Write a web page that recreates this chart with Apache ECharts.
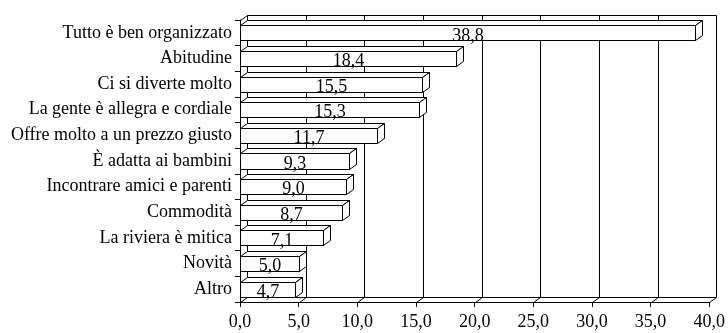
<!DOCTYPE html>
<html>
<head>
<meta charset="utf-8">
<script src="https://cdn.jsdelivr.net/npm/echarts@6/dist/echarts.min.js"></script>
<style>
  html, body { margin: 0; padding: 0; background: #ffffff; }
  #chart { width: 728px; height: 333px; }
</style>
</head>
<body>
<div id="chart"></div>
<script>
// Reasons given (percent)
const categories = [
  'Tutto è ben organizzato',
  'Abitudine',
  'Ci si diverte molto',
  'La gente è allegra e cordiale',
  'Offre molto a un prezzo giusto',
  'È adatta ai bambini',
  'Incontrare amici e parenti',
  'Commodità',
  'La riviera è mitica',
  'Novità',
  'Altro'
];
const values = [38.8, 18.4, 15.5, 15.3, 11.7, 9.3, 9.0, 8.7, 7.1, 5.0, 4.7];
const xTicks = [0, 5, 10, 15, 20, 25, 30, 35, 40];

// 3D depth of walls and bars, in pixels
const DX = 7, DY = 5;
const FONT = '"Liberation Serif", "Times New Roman", serif';
const fmt = v => v.toFixed(1).replace('.', ',');
const c = v => Math.round(v) + 0.5;

const chart = echarts.init(document.getElementById('chart'), null, { renderer: 'canvas' });

function wallItem(params, api) {
  const cs = params.coordSys;
  const top = cs.y, bottom = cs.y + cs.height;
  const line = { stroke: '#000', lineWidth: 1, fill: null };
  const children = [];
  // back wall vertical grid lines and floor diagonals
  xTicks.forEach(t => {
    const x = api.coord([t, 0])[0];
    children.push({ type: 'line', shape: { x1: c(x + DX), y1: c(top - DY), x2: c(x + DX), y2: c(bottom - DY) }, style: line });
    children.push({ type: 'line', shape: { x1: c(x), y1: c(bottom), x2: c(x + DX), y2: c(bottom - DY) }, style: line });
  });
  const xa = api.coord([xTicks[0], 0])[0];
  const xb = api.coord([xTicks[xTicks.length - 1], 0])[0];
  // back wall top edge and floor back edge
  children.push({ type: 'line', shape: { x1: c(xa + DX), y1: c(top - DY), x2: c(xb + DX), y2: c(top - DY) }, style: line });
  children.push({ type: 'line', shape: { x1: c(xa + DX), y1: c(bottom - DY), x2: c(xb + DX), y2: c(bottom - DY) }, style: line });
  // left wall top edge
  children.push({ type: 'line', shape: { x1: c(xa), y1: c(top), x2: c(xa + DX), y2: c(top - DY) }, style: line });
  return { type: 'group', children: children };
}

function barItem(params, api) {
  const val = api.value(0);
  const idx = api.value(1);
  const p0 = api.coord([0, idx]);
  const p1 = api.coord([val, idx]);
  const band = api.size([0, 1])[1];
  const h = band * 0.59;
  const x0 = c(p0[0]), x1 = c(p1[0]);
  const yT = c(p0[1] - h / 2), yB = c(p0[1] + h / 2);
  const st = { fill: '#ffffff', stroke: '#000', lineWidth: 1 };
  return {
    type: 'group',
    children: [
      { type: 'polygon', shape: { points: [[x0, yT], [x0 + DX, yT - DY], [x1 + DX, yT - DY], [x1, yT]] }, style: st },
      { type: 'polygon', shape: { points: [[x1, yT], [x1 + DX, yT - DY], [x1 + DX, yB - DY], [x1, yB]] }, style: st },
      { type: 'rect', shape: { x: x0, y: yT, width: x1 - x0, height: yB - yT }, style: st },
      {
        type: 'text',
        style: {
          text: fmt(val), x: (x0 + x1) / 2, y: p0[1] + 3,
          align: 'center', verticalAlign: 'middle',
          font: '18px ' + FONT, fill: '#000'
        }
      }
    ]
  };
}

chart.setOption({
  backgroundColor: '#ffffff',
  animation: false,
  grid: { left: 240, right: 17, top: 20, bottom: 31, containLabel: false },
  xAxis: {
    type: 'value', min: 0, max: 40, interval: 5,
    axisLine: { show: true, lineStyle: { color: '#000', width: 1 } },
    axisTick: { show: true, length: 5, lineStyle: { color: '#000' } },
    splitLine: { show: false },
    axisLabel: { formatter: fmt, color: '#000', fontFamily: FONT, fontSize: 18, margin: 11 }
  },
  yAxis: {
    type: 'category', data: categories, inverse: true,
    axisLine: { show: true, lineStyle: { color: '#000', width: 1 } },
    axisTick: { show: true, length: 5, lineStyle: { color: '#000' } },
    axisLabel: { color: '#000', fontFamily: FONT, fontSize: 18, margin: 8 },
    splitLine: { show: false }
  },
  series: [
    {
      type: 'custom', renderItem: wallItem, clip: false, z: 1,
      data: [[0, 0]], silent: true
    },
    {
      type: 'custom', renderItem: barItem, clip: false, z: 3,
      encode: { x: 0, y: 1 },
      data: values.map((v, i) => [v, i])
    }
  ]
});
</script>
</body>
</html>
